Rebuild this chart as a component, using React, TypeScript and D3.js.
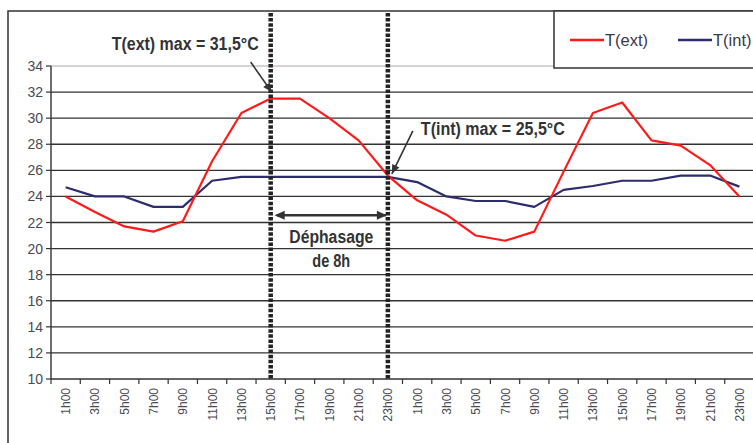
import React from "react";
import * as d3 from "d3";

const hours = [
  "1h00", "3h00", "5h00", "7h00", "9h00", "11h00", "13h00", "15h00", "17h00", "19h00", "21h00", "23h00",
  "1h00", "3h00", "5h00", "7h00", "9h00", "11h00", "13h00", "15h00", "17h00", "19h00", "21h00", "23h00",
];
const tExt = [24.0, 22.8, 21.7, 21.3, 22.1, 26.7, 30.4, 31.5, 31.5, 30.0, 28.3, 25.6, 23.7, 22.6, 21.0, 20.6, 21.3, 25.9, 30.4, 31.2, 28.3, 27.9, 26.4, 24.0];
const tInt = [24.7, 24.0, 24.0, 23.2, 23.2, 25.2, 25.5, 25.5, 25.5, 25.5, 25.5, 25.5, 25.1, 24.0, 23.65, 23.65, 23.2, 24.5, 24.8, 25.2, 25.2, 25.6, 25.6, 24.75];
const yTicks = [10, 12, 14, 16, 18, 20, 22, 24, 26, 28, 30, 32, 34];
const seriesNames = ["T(ext)", "T(int)"];
const seriesColors = ["#ff1a1a", "#2c2c6e"];
const extMaxIdx = 7;
const intMaxIdx = 11;
const extMaxLabel = "T(ext) max = 31,5°C";
const intMaxLabel = "T(int) max = 25,5°C";
const phaseLabel = ["Déphasage", "de 8h"];

const W = 753;
const H = 443;
const L = 51;
const R = 754;
const T = 66;
const B = 379;

const narrow = "'Liberation Sans Narrow','Arial Narrow','Liberation Sans',Arial,sans-serif";
const sans = "'Liberation Sans',Arial,Helvetica,sans-serif";

export default function App() {
  const idx = hours.map((_, i) => i);
  const x = d3.scaleBand<number>().domain(idx).range([L, R]).paddingInner(0).paddingOuter(0);
  const bw = x.bandwidth();
  const xc = (i: number) => (x(i) as number) + bw / 2;
  const y = d3.scaleLinear().domain([10, 34]).range([B, T]);
  const line = d3
    .line<number>()
    .x((_, i) => xc(i))
    .y((d) => y(d));

  const vx1 = xc(extMaxIdx);
  const vx2 = xc(intMaxIdx);

  // annotation anchors derived from scales
  const a1Tip = [vx1 + 1, y(32)];
  const a1Start = [a1Tip[0] - 21, a1Tip[1] - 30];
  const a2Tip = [vx2 + 4, y(25.5) - 3];
  const a2Start = [a2Tip[0] + 21, a2Tip[1] - 43];
  const dblY = y(22.55);

  const arrowHead = (tip: number[], from: number[], size = 9, half = 4) => {
    const dx = tip[0] - from[0];
    const dy = tip[1] - from[1];
    const len = Math.hypot(dx, dy);
    const ux = dx / len;
    const uy = dy / len;
    const bx = tip[0] - ux * size;
    const by = tip[1] - uy * size;
    const px = -uy * half;
    const py = ux * half;
    return `M${tip[0]},${tip[1]}L${bx + px},${by + py}L${bx - px},${by - py}Z`;
  };

  const textColor = "#333";

  return (
    <>
      <style>{"body{margin:0}"}</style>
      <svg width={W} height={H} style={{ display: "block", background: "#fff" }}>
        {/* outer frame */}
        <rect x={8} y={11} width={W + 20} height={H + 20} fill="none" stroke="#333" strokeWidth={1.5} />

        {/* gridlines */}
        {yTicks.map((t) => (
          <line
            key={t}
            x1={L}
            x2={R}
            y1={y(t)}
            y2={y(t)}
            stroke={t === 34 ? "#b0a4a4" : "#333"}
            strokeWidth={t === 34 ? 1 : 1.4}
          />
        ))}
        {/* y axis */}
        <line x1={L} x2={L} y1={T} y2={B} stroke="#333" strokeWidth={1.4} />
        {yTicks.map((t) => (
          <g key={"yt" + t}>
            <line x1={L - 5} x2={L} y1={y(t)} y2={y(t)} stroke="#333" strokeWidth={1.2} />
            <text x={43} y={y(t)} dy="0.36em" textAnchor="end" fontFamily={sans} fontSize={14} fill="#4a4a55">
              {t}
            </text>
          </g>
        ))}
        {/* x ticks & labels */}
        {idx.map((i) => (
          <line key={"xt" + i} x1={x(i)} x2={x(i)} y1={B} y2={B + 5} stroke="#333" strokeWidth={1.2} />
        ))}
        <line x1={R} x2={R} y1={B} y2={B + 5} stroke="#333" strokeWidth={1.2} />
        {hours.map((h, i) => (
          <text
            key={"xl" + i}
            transform={`translate(${xc(i) + 4.5},${B + 9}) rotate(-90)`}
            textAnchor="end"
            fontFamily={sans}
            fontSize={12}
            fill="#4a4a55"
          >
            {h}
          </text>
        ))}

        {/* series */}
        <path d={line(tInt) || ""} fill="none" stroke={seriesColors[1]} strokeWidth={2.2} strokeLinejoin="round" />
        <path d={line(tExt) || ""} fill="none" stroke={seriesColors[0]} strokeWidth={2.2} strokeLinejoin="round" />

        {/* dotted verticals */}
        {[vx1, vx2].map((vx, k) => (
          <line key={"v" + k} x1={vx} x2={vx} y1={13} y2={B} stroke="#222" strokeWidth={4.5} strokeDasharray="3.5,1.6" />
        ))}

        {/* annotation arrows */}
        <line x1={a1Start[0]} y1={a1Start[1]} x2={a1Tip[0]} y2={a1Tip[1]} stroke="#333" strokeWidth={1.6} />
        <path d={arrowHead(a1Tip, a1Start)} fill="#333" />
        <line x1={a2Start[0]} y1={a2Start[1]} x2={a2Tip[0]} y2={a2Tip[1]} stroke="#333" strokeWidth={1.6} />
        <path d={arrowHead(a2Tip, a2Start)} fill="#333" />
        <line x1={vx1 + 6} x2={vx2 - 2} y1={dblY} y2={dblY} stroke="#333" strokeWidth={2.5} />
        <path d={arrowHead([vx1 + 4, dblY], [vx2, dblY], 10, 4.5)} fill="#333" />
        <path d={arrowHead([vx2 - 1, dblY], [vx1, dblY], 10, 4.5)} fill="#333" />

        {/* annotation texts */}
        <text x={a1Start[0] - 139} y={50} fontFamily={narrow} fontWeight="bold" fontSize={17.5} fill={textColor} textLength={147} lengthAdjust="spacingAndGlyphs">
          {extMaxLabel}
        </text>
        <text x={a2Start[0] + 8} y={135} fontFamily={narrow} fontWeight="bold" fontSize={17.5} fill={textColor} textLength={144} lengthAdjust="spacingAndGlyphs">
          {intMaxLabel}
        </text>
        <text x={(vx1 + vx2) / 2 + 2} y={243} textAnchor="middle" fontFamily={narrow} fontWeight="bold" fontSize={17.5} fill={textColor} textLength={84} lengthAdjust="spacingAndGlyphs">
          {phaseLabel[0]}
        </text>
        <text x={(vx1 + vx2) / 2 + 2} y={267} textAnchor="middle" fontFamily={narrow} fontWeight="bold" fontSize={17.5} fill={textColor} textLength={38} lengthAdjust="spacingAndGlyphs">
          {phaseLabel[1]}
        </text>

        {/* legend */}
        <rect x={554} y={11} width={W} height={57} fill="#fff" stroke="#333" strokeWidth={1.5} />
        {seriesNames.map((n, k) => (
          <g key={n} transform={`translate(${570 + k * 108},40)`}>
            <line x1={0} x2={34} y1={0} y2={0} stroke={seriesColors[k]} strokeWidth={2.5} />
            <text x={35} y={0} dy="0.36em" fontFamily={sans} fontSize={16.5} fill="#3a3a48">
              {n}
            </text>
          </g>
        ))}
      </svg>
    </>
  );
}
